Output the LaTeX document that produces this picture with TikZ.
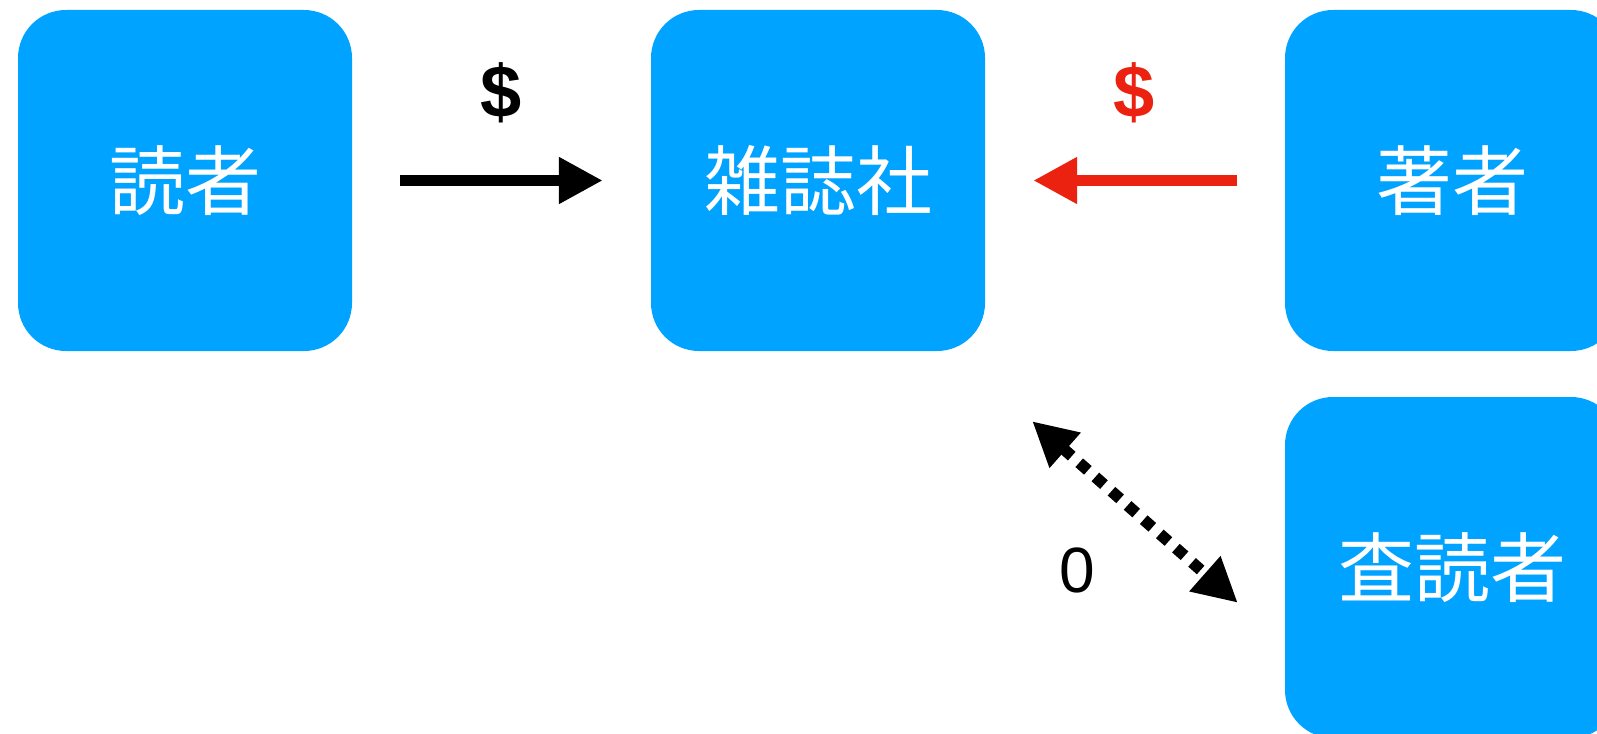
\documentclass[tikz,border=0pt]{standalone}
\usepackage{fontspec}
\usepackage{tikz}
\usetikzlibrary{arrows.meta}
\newfontfamily\jpfont{Noto Sans CJK JP}
\newfontfamily\signfont{Liberation Sans}
\definecolor{party}{RGB}{0, 163, 255}
\definecolor{paid}{RGB}{236, 34, 16}
\newcommand*{\gap}{48pt}

\begin{document}
\begin{tikzpicture}[x=1pt, y=-1pt,
  actor/.style={fill=party, rounded corners=48pt, inner sep=0pt,
    minimum width=334pt, minimum height=341pt, text=white,
    font=\jpfont\fontsize{76}{90}\selectfont},
  head/.style={-{Triangle[length=44pt, width=44pt]}},
  money/.style={line width=11pt, head, shorten <=\gap, shorten >=\gap},
  sign/.style={font=\signfont\fontsize{64}{76}\selectfont}]
  \useasboundingbox (0, 0) rectangle (1597, 733);

  \node[actor] (reader) at (185, 180.5) {読者};
  \node[actor] (journal) at (818, 180.5) {雑誌社};
  \node[actor] (author) at (1452, 180.5) {著者};
  \node[actor] (referee) at (1452, 567.5) {査読者};

  % subscription and submission fees
  \draw[money] (reader) -- (journal);
  \node[sign] (fee) at (501, 93) {\fontsize{74}{80}\selectfont\bfseries\$};
  \draw[money, paid] (author) -- (journal);
  \node[sign, text=paid] (charge) at (1134, 93) {\fontsize{74}{80}\selectfont\bfseries\$};

  % reviewing is unpaid
  \coordinate (ask) at ([shift={(47, 70)}]journal.south east);
  \coordinate (report) at ([shift={(-47, 206)}]referee.north west);
  \draw[line width=11.5pt, dash pattern=on 11.5pt off 10pt,
    {Triangle[length=44pt, width=44pt]}-{Triangle[length=44pt, width=44pt]}]
    (ask) -- (report);
  \node[sign] (nothing) at (1077, 570) {0};
\end{tikzpicture}
\end{document}
